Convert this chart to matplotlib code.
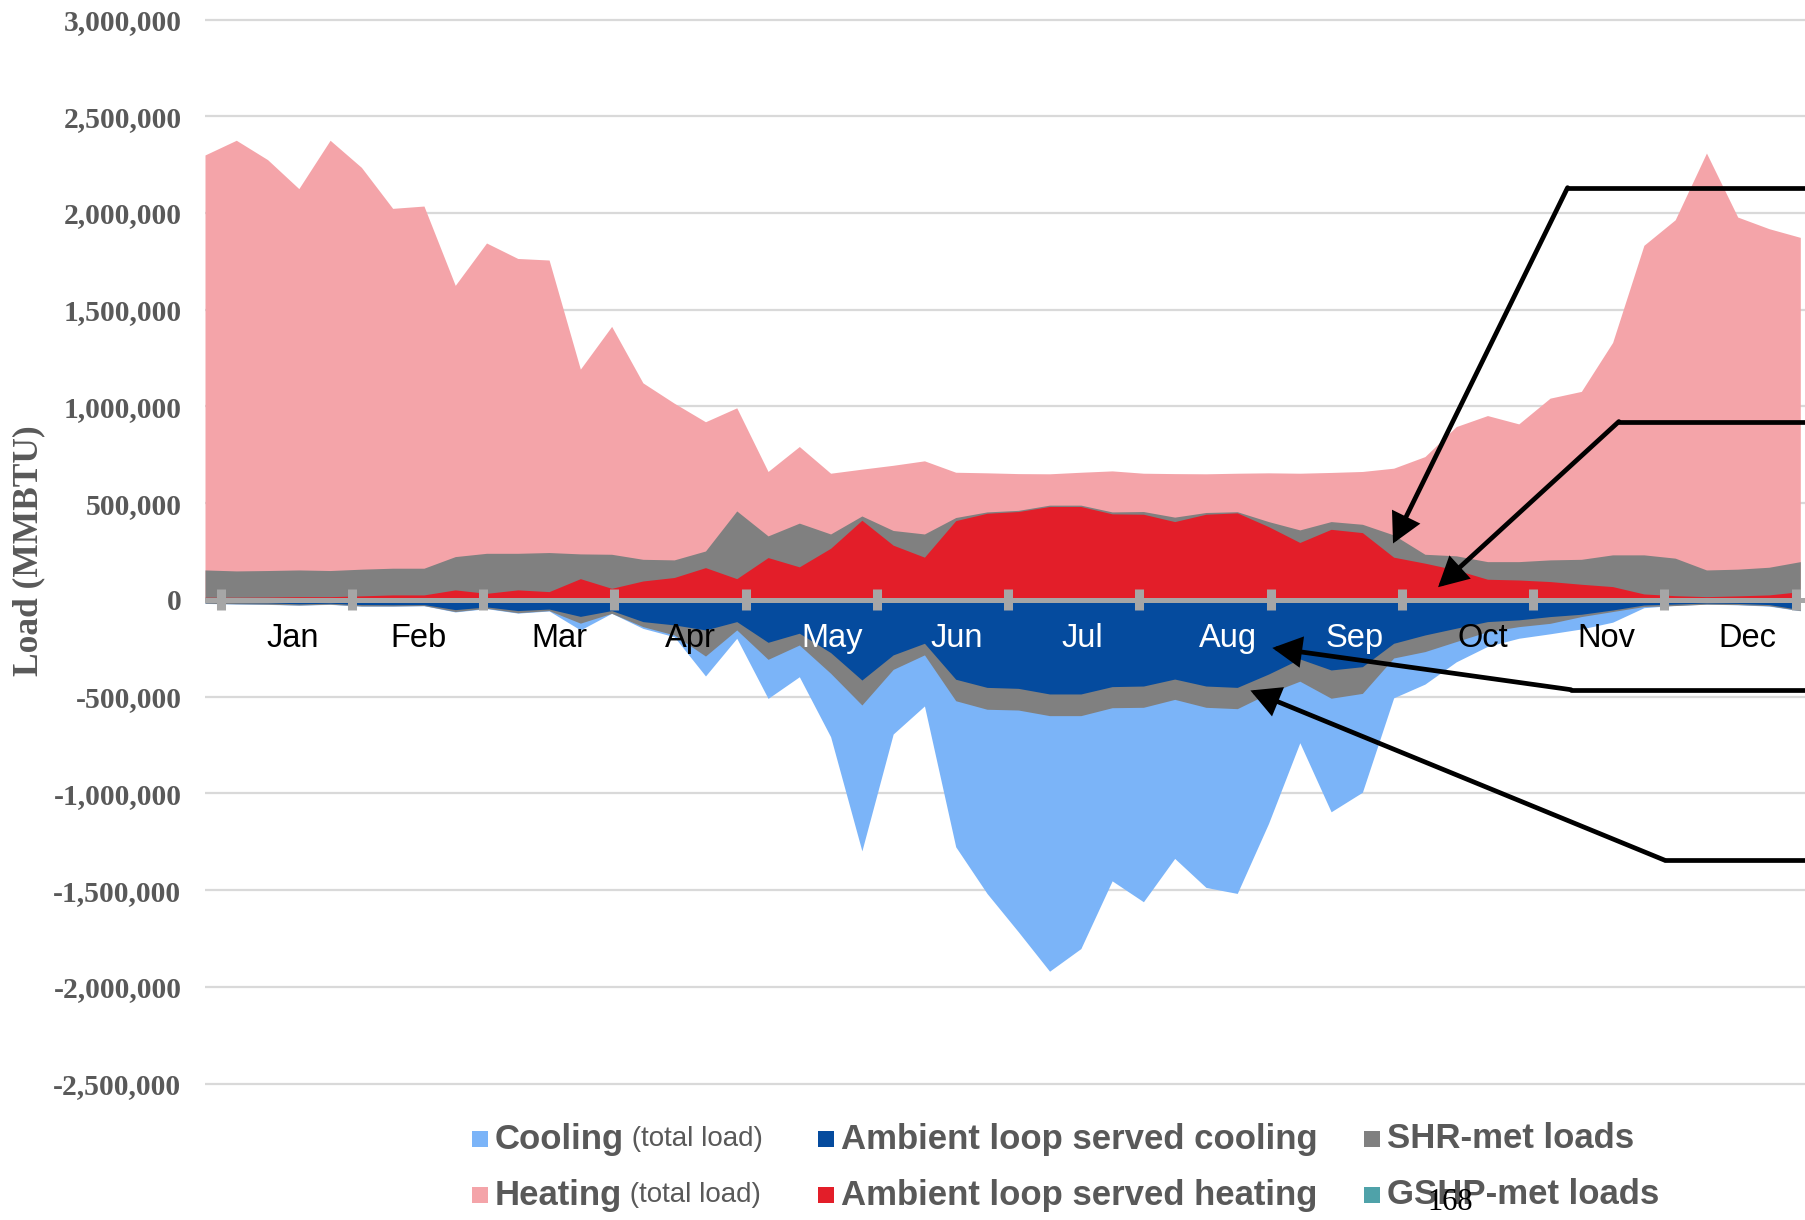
import numpy as np
import matplotlib.pyplot as plt
from matplotlib.patches import Rectangle
from matplotlib.ticker import FuncFormatter

plt.rcParams['font.family'] = ['Liberation Serif', 'DejaVu Serif']

# weekly loads (MMBTU), heating positive, cooling negative
heating_total = [2300000, 2376000, 2276000, 2126000, 2376000, 2236000, 2024000, 2036000, 1626000, 1845000,
                 1765000, 1757000, 1193000, 1414000, 1122000, 1017000, 921000, 993000, 664000, 793000,
                 655000, 676000, 696000, 719000, 660000, 657000, 653000, 652000, 660000, 667000,
                 655000, 653000, 652000, 655000, 657000, 655000, 659000, 664000, 681000, 741000,
                 896000, 953000, 910000, 1043000, 1078000, 1331000, 1833000, 1965000, 2310000, 1979000,
                 1919000, 1874000]
heating_ambient = [14000, 14000, 15000, 17000, 17000, 21000, 26000, 26000, 52000, 34000,
                   52000, 43000, 110000, 60000, 98000, 116000, 167000, 110000, 219000, 171000,
                   267000, 412000, 283000, 221000, 410000, 448000, 457000, 483000, 483000, 445000,
                   443000, 405000, 443000, 450000, 379000, 297000, 365000, 348000, 221000, 190000,
                   155000, 107000, 103000, 95000, 81000, 69000, 31000, 22000, 17000, 21000,
                   26000, 43000]
heating_shr = [141000, 136000, 137000, 138000, 135000, 138000, 138000, 138000, 172000, 207000,
               189000, 202000, 128000, 176000, 112000, 91000, 86000, 350000, 112000, 226000,
               74000, 22000, 76000, 120000, 16000, 7000, 6000, 7000, 7000, 10000,
               14000, 23000, 9000, 6000, 26000, 65000, 40000, 43000, 115000, 46000,
               73000, 91000, 95000, 112000, 129000, 164000, 202000, 194000, 138000, 138000,
               143000, 155000]
cooling_total = [-18000, -21000, -23000, -27000, -23000, -32000, -32000, -30000, -62000, -45000,
                 -68000, -57000, -155000, -69000, -147000, -190000, -393000, -198000, -509000, -397000,
                 -707000, -1297000, -693000, -548000, -1276000, -1517000, -1715000, -1919000, -1802000, -1452000,
                 -1560000, -1336000, -1486000, -1517000, -1155000, -738000, -1095000, -994000, -506000, -435000,
                 -320000, -240000, -198000, -175000, -150000, -115000, -40000, -28000, -22000, -25000,
                 -32000, -56000]
cooling_ambient = [-12000, -14000, -15000, -20000, -17000, -24000, -25000, -24000, -50000, -36000,
                   -55000, -47000, -85000, -55000, -112000, -129000, -155000, -112000, -219000, -172000,
                   -272000, -414000, -284000, -224000, -410000, -452000, -457000, -486000, -486000, -448000,
                   -445000, -409000, -445000, -452000, -383000, -305000, -362000, -345000, -224000, -181000,
                   -146000, -112000, -103000, -86000, -74000, -52000, -26000, -21000, -16000, -18000,
                   -24000, -50000]
cooling_shr = [-5000, -6000, -7000, -6000, -5000, -7000, -6000, -5000, -10000, -7000,
               -11000, -8000, -35000, -14000, -26000, -52000, -135000, -43000, -88000, -61000,
               -107000, -129000, -75000, -60000, -111000, -113000, -112000, -112000, -112000, -109000,
               -110000, -105000, -110000, -110000, -100000, -115000, -146000, -138000, -76000, -86000,
               -69000, -52000, -35000, -35000, -12000, -8000, -8000, -8000, -6000, -6000,
               -6000, -5000]

months = ['Jan', 'Feb', 'Mar', 'Apr', 'May', 'Jun', 'Jul', 'Aug', 'Sep', 'Oct', 'Nov', 'Dec']
month_colors = ['black'] * 4 + ['white'] * 5 + ['black'] * 3
# hand nudges of the month captions (in weeks)
month_nudge = [0.2, 0.04, 0.34, 0.34, 0.67, 0.45, 0.26, 0.74, 0.59, 0.48, 0.23, 0.56]

PINK = '#F4A4A9'
LIGHTBLUE = '#7BB4F8'
DARKBLUE = '#054B9E'
RED = '#E31E29'
GRAY = '#808080'
TEAL = '#4FA2A9'
TXT = '#595959'

W, H = 1805, 1220
fig = plt.figure(figsize=(W / 100, H / 100), dpi=100)
ax = fig.add_axes([205 / W, 0, 1 - 205 / W, 1])

weeks = np.arange(len(heating_total))
ax.fill_between(weeks, 0, heating_total, color=PINK, lw=0, zorder=1)
ax.fill_between(weeks, 0, cooling_total, color=LIGHTBLUE, lw=0, zorder=1)
ax.fill_between(weeks, 0, np.add(heating_ambient, heating_shr), color=GRAY, lw=0, zorder=1.1)
ax.fill_between(weeks, 0, np.add(cooling_ambient, cooling_shr), color=GRAY, lw=0, zorder=1.1)
ax.fill_between(weeks, 0, heating_ambient, color=RED, lw=0, zorder=1.2)
ax.fill_between(weeks, 0, cooling_ambient, color=DARKBLUE, lw=0, zorder=1.2)

ax.set_xlim(0, 51.15)
ax.set_ylim(-3205000, 3101000)
ax.set_xticks([])
ax.set_yticks(np.arange(-2500000, 3000001, 500000))
ax.yaxis.set_major_formatter(FuncFormatter(lambda v, p: f'{v:,.0f}'))
ax.tick_params(axis='y', length=0, pad=17, labelsize=21.3, labelcolor=TXT)
for lbl in ax.get_yticklabels():
    lbl.set_fontweight('bold')
for s in ax.spines.values():
    s.set_visible(False)
ax.grid(axis='y', color='#D9D9D9', lw=1.6)
ax.set_axisbelow(True)

# category axis along zero with month separators
edges = np.linspace(0.5, 50.85, 13)
ax.axhline(0, color='#A6A6A6', lw=3.6, zorder=3)
ax.vlines(edges, -54000, 54000, color='#A6A6A6', lw=6.5, zorder=3)
mids = (edges[:-1] + edges[1:]) / 2
for xm, dx, m, c in zip(mids, month_nudge, months, month_colors):
    ax.text(xm + dx, -200000, m, ha='center', va='center', fontsize=23.5,
            family='Liberation Sans', color=c, zorder=4)

# callout arrows: (right end y, corner x, tip x, tip y)
callouts = [(2131000, 43.56, 37.98, 292000),
            (922000, 45.2, 39.42, 66000),
            (-464000, 43.67, 34.12, -248000),
            (-1345000, 46.66, 33.42, -468000)]
for y0, xc, xt, yt in callouts:
    ax.plot([53, xc], [y0, y0], color='black', lw=3.4, solid_capstyle='round',
            clip_on=False, zorder=5)
    ax.annotate('', xy=(xt, yt), xytext=(xc, y0),
                arrowprops=dict(arrowstyle='-|>,head_length=0.85,head_width=0.45',
                                mutation_scale=19, lw=3.4, color='black',
                                shrinkA=0, shrinkB=0, joinstyle='miter'),
                zorder=5)

fig.text(29 / W, 1 - 551 / H, 'Load (MMBTU)', rotation=90, ha='center', va='center',
         fontsize=25.5, fontweight='bold', color=TXT)

# legend
renderer = fig.canvas.get_renderer()
legend_items = [
    (472, 1139, LIGHTBLUE, 'Cooling', ' (total load)'),
    (818, 1139, DARKBLUE, 'Ambient loop served cooling', ''),
    (1364, 1139, GRAY, 'SHR-met loads', ''),
    (472, 1195, PINK, 'Heating', ' (total load)'),
    (818, 1195, RED, 'Ambient loop served heating', ''),
    (1364, 1195, TEAL, 'GSHP-met loads', ''),
]
sq = 16
for x, y, col, bold, extra in legend_items:
    fig.patches.append(Rectangle((x / W, (H - y - sq / 2) / H), sq / W, sq / H,
                                 transform=fig.transFigure, color=col, lw=0))
    t = fig.text((x + sq + 7) / W, 1 - y / H, bold, ha='left', va='center', fontsize=25,
                 family='Liberation Sans', fontweight='bold', color=TXT)
    if extra:
        bb = t.get_window_extent(renderer=renderer)
        fig.text(bb.x1 / W, 1 - y / H, extra, ha='left', va='center', fontsize=20,
                 family='Liberation Sans', fontweight='normal', color=TXT)

fig.text(1450 / W, 1 - 1203 / H, '168', ha='center', va='center', fontsize=22,
         fontweight='normal', color='black')

fig.savefig('out.png', dpi=100)
